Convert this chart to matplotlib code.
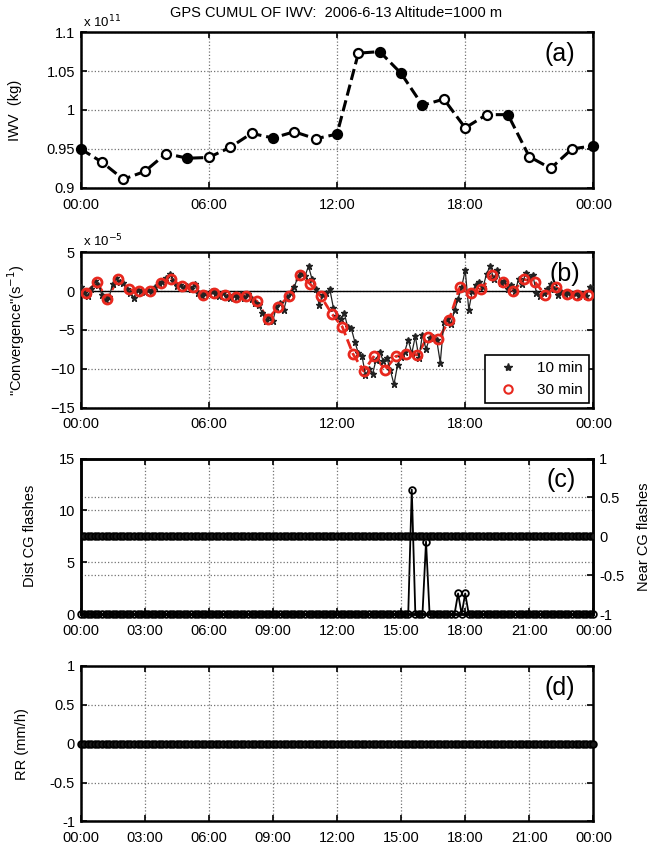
import numpy as np
import matplotlib
matplotlib.use("Agg")
import matplotlib.pyplot as plt
from matplotlib.ticker import FuncFormatter, FixedLocator
from matplotlib.lines import Line2D

plt.rcParams['font.family'] = ['Liberation Sans', 'DejaVu Sans']

# ---------------- data ----------------
title = "GPS CUMUL OF IWV:  2006-6-13 Altitude=1000 m"

# (a) hourly IWV, x 1e11 kg
iwv_hours = list(range(0, 25))
iwv_e11 = [0.950, 0.933, 0.911, 0.921, 0.944, 0.938, 0.939, 0.952, 0.970, 0.964,
           0.972, 0.963, 0.969, 1.073, 1.075, 1.047, 1.006, 1.014, 0.977, 0.994,
           0.994, 0.940, 0.925, 0.950, 0.954]
iwv_filled = [1, 0, 0, 0, 0, 1, 0, 0, 0, 1, 0, 0, 1, 0, 1, 1, 1, 0, 0, 0, 1, 0, 0, 0, 1]

# (b) convergence, x 1e-5 s^-1
conv10 = [
    0.5, -0.3, -0.6, 0.2, 1.3, 0.8,
    -0.5, -1.2, -0.8, 0.9, 1.7, 1.2,
    1.0, 0.2, -0.3, -0.9, 0.1, 0.0,
    -0.1, 0.1, 0.0, 0.5, 1.0, 1.2,
    1.7, 2.2, 1.3, 0.6, 0.8, 0.4,
    0.6, 0.3, 0.9, -0.3, -0.6, -0.2,
    -0.4, 0.0, -0.3, -0.6, -0.2, -0.8,
    -0.9, -0.5, -0.8, -0.4, -0.9, -0.4,
    -1.0, -1.5, -1.8, -2.8, -3.9, -3.3,
    -3.8, -2.0, -1.5, -2.5, -0.8, -0.2,
    0.5, 1.8, 2.3, 1.9, 3.2, 1.5,
    0.3, -1.8, -0.5, -0.3, 0.2, -2.2,
    -3.2, -3.6, -2.8, -4.6, -4.8, -6.5,
    -8.0, -8.3, -10.8, -10.0, -10.6, -8.8,
    -7.8, -9.0, -8.6, -10.2, -12.0, -9.5,
    -8.5, -7.8, -6.3, -8.0, -5.8, -8.6,
    -5.6, -7.5, -6.0, -5.9, -6.3, -9.2,
    -4.0, -3.6, -4.2, -2.5, -1.0, 0.5,
    2.7, -2.4, 0.0, 0.8, 1.2, 0.5,
    2.2, 3.2, 1.5, 2.7, 1.0, 1.3,
    0.3, 0.8, 0.0, 1.5, 0.9, 2.3,
    1.8, 2.0, -0.2, -0.6, -0.3, 0.3,
    0.9, 0.2, -0.5, -0.1, -0.4, -0.2,
    -0.5, -0.3, -0.7, -0.4, -0.6, 0.5,
]
conv30 = [-0.2, 1.1, -1.0, 1.6, 0.2, 0.0, 0.0, 1.0, 1.5, 0.6, 0.5, -0.5,
          -0.2, -0.5, -0.8, -0.6, -1.3, -3.6, -2.1, -0.6, 2.1, 0.9, -0.7, -2.9,
          -4.6, -8.1, -10.3, -8.3, -10.1, -8.4, -8.1, -8.2, -5.9, -6.2, -3.7, 0.5,
          -0.3, 0.3, 2.0, 1.2, 0.0, 1.5, 1.2, -0.5, 0.5, -0.4, -0.5, -0.5]
t10 = [i / 6.0 for i in range(len(conv10))]
t30 = [0.25 + 0.5 * i for i in range(len(conv30))]

# (c) lightning flashes, 10-min bins
t_flash = [i / 6.0 for i in range(145)]
flash_times = [15.5, 16 + 1 / 6.0, 17 + 4 / 6.0, 18.0]
flash_counts = [12, 7, 2, 2]
dist_cg = [0.0] * 145
for ft, fc in zip(flash_times, flash_counts):
    dist_cg[int(round(ft * 6))] = fc
near_cg = [0.0] * 145

# (d) rain rate
rr = [0.0] * 145

ticks6 = [0, 6, 12, 18, 24]
ticks3 = [0, 3, 6, 9, 12, 15, 18, 21, 24]

def hhmm(v, pos=None):
    return "%02d:00" % (int(round(v)) % 24)

def gfmt(v, pos=None):
    return "%g" % v

# ---------------- figure ----------------
fig = plt.figure(figsize=(6.66, 8.46), dpi=100)
L, W, H = 0.121, 0.770, 0.184
axa = fig.add_axes([L, 0.778, W, H])
axb = fig.add_axes([L, 0.518, W, H])
axc = fig.add_axes([L, 0.274, W, H])
axd = fig.add_axes([L, 0.029, W, H])

FS = 10.5
gridkw = dict(color='0.45', linestyle=':', linewidth=0.9)

def style(ax, xt, right=True):
    ax.set_xlim(0, 24)
    ax.xaxis.set_major_locator(FixedLocator(xt))
    ax.xaxis.set_major_formatter(FuncFormatter(hhmm))
    ax.tick_params(direction='in', top=True, right=right, length=4, width=1.2,
                   labelsize=FS, pad=4)
    ax.tick_params(axis='x', pad=7)
    for s in ax.spines.values():
        s.set_linewidth(1.8)
    ax.grid(True, **gridkw)
    ax.set_axisbelow(True)

# (a)
style(axa, ticks6)
axa.plot(iwv_hours, iwv_e11, color='black', linestyle='--', linewidth=2.2, zorder=3)
for h, v, f in zip(iwv_hours, iwv_e11, iwv_filled):
    axa.plot([h], [v], marker='o', markersize=6.5, markeredgewidth=1.6,
             markeredgecolor='black', markerfacecolor='black' if f else 'white',
             linestyle='none', zorder=4, clip_on=False)
axa.set_ylim(0.9, 1.1)
axa.set_yticks([0.9, 0.95, 1.0, 1.05, 1.1])
axa.yaxis.set_major_formatter(FuncFormatter(gfmt))
axa.set_ylabel("IWV  (kg)", fontsize=FS)
axa.yaxis.set_label_coords(-0.115, 0.5)
axa.text(0.005, 1.015, r"x 10$^{11}$", transform=axa.transAxes, fontsize=9.5,
         ha='left', va='bottom')
axa.text(0.965, 0.86, "(a)", transform=axa.transAxes, fontsize=18, ha='right', va='center')
fig.text(0.505, 0.985, title, ha='center', va='center', fontsize=10.5)

# (b)
style(axb, ticks6)
axb.axhline(0, color='black', linewidth=1.0, zorder=2)
axb.plot(t30, conv30, color='#e8281e', linestyle='--', linewidth=2.0, zorder=3)
axb.plot(t10, conv10, color='#222222', linestyle='-', linewidth=0.9, marker='*',
         markersize=5, zorder=4)
axb.plot(t30, conv30, color='none', linestyle='none', marker='o', markersize=6.5,
         markeredgecolor='#e8281e', markerfacecolor='none', markeredgewidth=2.0, zorder=5)
axb.set_ylim(-15, 5)
axb.set_yticks([-15, -10, -5, 0, 5])
axb.set_ylabel('"Convergence"(s$^{-1}$)', fontsize=FS)
axb.yaxis.set_label_coords(-0.105, 0.5)
axb.text(0.005, 1.015, r"x 10$^{-5}$", transform=axb.transAxes, fontsize=9.5,
         ha='left', va='bottom')
axb.text(0.975, 0.86, "(b)", transform=axb.transAxes, fontsize=18, ha='right', va='center')
handles = [Line2D([], [], color='#222222', marker='*', linestyle='none', markersize=6),
           Line2D([], [], color='#e8281e', marker='o', linestyle='none', markersize=6,
                  markerfacecolor='none', markeredgewidth=1.5)]
leg = axb.legend(handles, ["10 min", "30 min"], loc='lower right', fontsize=FS + 0.5,
                 frameon=True, fancybox=False, edgecolor='black', framealpha=1,
                 borderaxespad=0.3, handletextpad=0.8, borderpad=0.4, handlelength=2.2)
leg.get_frame().set_linewidth(1.2)

# (c)
style(axc, ticks3, right=False)
axc.plot(t_flash, dist_cg, color='black', linewidth=1.3, marker='o', markersize=4.8,
         markerfacecolor='none', markeredgewidth=1.3, zorder=4, clip_on=False)
axc.set_ylim(0, 15)
axc.set_yticks([0, 5, 10, 15])
axc.set_ylabel("Dist CG flashes", fontsize=FS)
axc.yaxis.set_label_coords(-0.085, 0.5)
axc2 = axc.twinx()
axc2.set_ylim(-1, 1)
axc2.set_yticks([-1, -0.5, 0, 0.5, 1])
axc2.yaxis.set_major_formatter(FuncFormatter(gfmt))
axc2.plot(t_flash, near_cg, color='black', linewidth=1.3, marker='o', markersize=4.8,
          markerfacecolor='0.1', markeredgewidth=1.3, zorder=4)
axc2.tick_params(direction='in', length=4, width=1.2, labelsize=FS, pad=4)
axc2.grid(True, axis='y', **gridkw)
axc2.set_ylabel("Near CG flashes", fontsize=FS)
axc2.yaxis.set_label_coords(1.085, 0.5)
for s in axc2.spines.values():
    s.set_linewidth(1.8)
axc2.text(0.965, 0.86, "(c)", transform=axc2.transAxes, fontsize=18, ha='right', va='center')

# (d)
style(axd, ticks3)
axd.plot(t_flash, rr, color='black', linewidth=1.3, marker='o', markersize=4.8,
         markerfacecolor='0.1', markeredgewidth=1.3, zorder=4, clip_on=False)
axd.set_ylim(-1, 1)
axd.set_yticks([-1, -0.5, 0, 0.5, 1])
axd.yaxis.set_major_formatter(FuncFormatter(gfmt))
axd.set_ylabel("RR (mm/h)", fontsize=FS)
axd.yaxis.set_label_coords(-0.1, 0.5)
axd.text(0.965, 0.86, "(d)", transform=axd.transAxes, fontsize=18, ha='right', va='center')

fig.savefig("out.png", dpi=100)
